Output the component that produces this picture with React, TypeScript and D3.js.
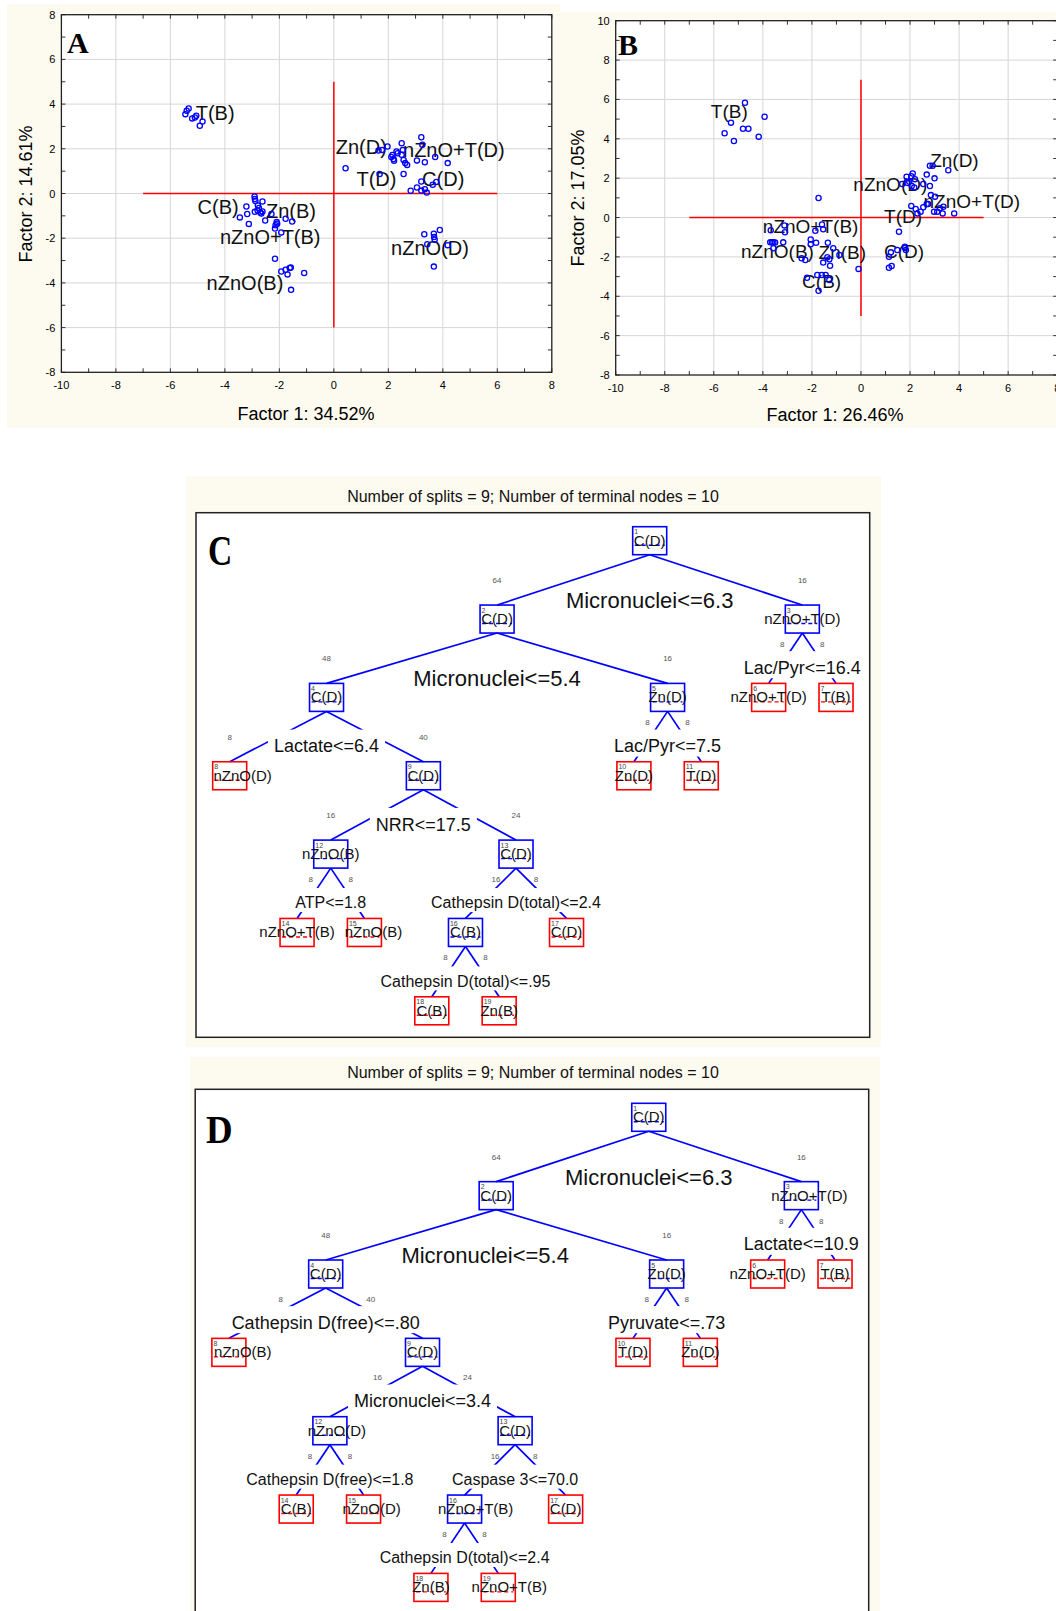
import * as d3 from "d3";

const W = 1056;
const H = 1611;
const SANS = "'Liberation Sans', Arial, sans-serif";
const SERIF = "'Liberation Serif', 'Times New Roman', serif";
const CREAM = "#fdfaf0";
const BLUE = "#0000ff";
const RED = "#ff0000";

// ---------- score plots (A, B) ----------
const ticksX = [-10, -8, -6, -4, -2, 0, 2, 4, 6, 8];
const ticksYA = [-8, -6, -4, -2, 0, 2, 4, 6, 8];
const ticksYB = [-8, -6, -4, -2, 0, 2, 4, 6, 8, 10];

// panel A points, grouped by treatment
const aTB = [[-5.45, 3.55], [-5.4, 3.7], [-5.33, 3.8], [-5.2, 3.36], [-5.1, 3.4], [-5.05, 3.48], [-4.92, 3.03], [-4.82, 3.22]];
const aZnD = [[1.64, 1.92], [1.77, 1.95], [1.97, 2.1], [2.11, 1.63], [2.15, 1.72], [2.19, 1.54], [2.21, 1.47], [2.3, 1.88]];
const aNTD = [[2.49, 2.25], [2.53, 1.95], [3.21, 2.52], [3.25, 2.18], [3.72, 1.63], [4.18, 1.36], [3.34, 1.4], [3.05, 1.48]];
const aTD = [[0.43, 1.13], [1.68, 0.87], [2.56, 0.87], [2.49, 1.73], [2.56, 1.5], [2.62, 1.36], [2.69, 1.28], [2.34, 1.8]];
const aCD = [[3.21, 0.54], [2.82, 0.12], [3.05, 0.27], [3.21, 0.13], [3.34, 0.19], [3.41, 0.04], [3.63, 0.39], [3.76, 0.52]];
const aND = [[3.32, -1.82], [3.67, -1.8], [3.68, -1.95], [3.7, -2.07], [3.89, -1.63], [3.43, -2.27], [4.18, -2.31], [3.67, -3.27]];
const aCB = [[-2.91, -0.13], [-2.9, -0.25], [-2.88, -0.33], [-2.62, -0.36], [-3.21, -0.58], [-2.79, -0.54], [-2.75, -0.65], [-3.18, -0.92]];
const aZnB = [[-2.9, -0.82], [-2.8, -0.76], [-2.7, -0.85], [-2.62, -0.8], [-2.66, -0.9], [-2.29, -0.92], [-1.77, -1.13], [-1.53, -1.25]];
const aNTB = [[-3.45, -1.07], [-3.12, -1.36], [-2.52, -1.21], [-2.1, -1.28], [-2.14, -1.42], [-2.16, -1.57], [-2.08, -1.35], [-1.93, -1.74]];
const aNB = [[-2.16, -2.92], [-1.93, -3.49], [-1.77, -3.41], [-1.62, -3.33], [-1.58, -3.31], [-1.7, -3.62], [-1.57, -4.31], [-1.09, -3.56]];

// panel B points
const bTB = [[-4.73, 5.83], [-5.3, 4.82], [-5.56, 4.28], [-5.18, 3.89], [-4.81, 4.51], [-4.59, 4.51], [-4.17, 4.11], [-3.93, 5.12]];
const bZnD = [[2.81, 2.63], [2.92, 2.63], [3.56, 2.4], [2.68, 2.18], [3.0, 1.99], [2.11, 2.24], [2.54, 1.7], [2.81, 1.6]];
const bND = [[1.86, 2.07], [1.68, 1.7], [1.97, 1.82], [2.07, 1.6], [2.17, 1.53], [2.2, 1.95], [1.9, 1.75], [2.05, 2.1]];
const bNTD = [[2.85, 1.14], [3.02, 1.06], [2.98, 0.3], [3.11, 0.3], [3.22, 0.47], [3.33, 0.21], [3.36, 0.55], [3.8, 0.21]];
const bTD = [[2.05, 0.59], [2.23, 0.43], [2.3, 0.21], [2.43, 0.3], [2.54, 0.52], [2.68, 0.69], [2.74, 0.69], [1.55, -0.72]];
const bCD = [[1.14, -1.99], [1.22, -1.77], [1.48, -1.65], [1.79, -1.48], [1.83, -1.65], [1.14, -2.55], [1.25, -2.46], [1.8, -1.55]];
const bNTB = [[-1.73, 0.99], [-3.68, -0.64], [-3.12, -0.4], [-3.1, -0.75], [-1.59, -0.35], [-1.54, -0.6], [-1.86, -0.67], [-2.05, -1.11]];
const bNB = [[-3.7, -1.26], [-3.63, -1.26], [-3.57, -1.26], [-3.5, -1.27], [-3.17, -1.26], [-3.57, -1.56], [-2.42, -2.07], [-2.27, -2.16]];
const bZnB = [[-2.05, -1.36], [-1.83, -1.28], [-1.35, -1.28], [-1.13, -1.56], [-1.37, -2.02], [-1.29, -2.12], [-0.88, -1.9], [-1.54, -2.29]];
const bCB = [[-1.26, -2.45], [-2.2, -3.06], [-1.78, -2.92], [-1.6, -2.92], [-1.44, -2.92], [-1.29, -3.17], [-1.73, -3.72], [-0.1, -2.61]];

const pointsA = [aTB, aZnD, aNTD, aTD, aCD, aND, aCB, aZnB, aNTB, aNB];
const pointsB = [bTB, bZnD, bND, bNTD, bTD, bCD, bNTB, bNB, bZnB, bCB];

// group labels: [text, x, y] in factor units (text starts at x, centred on y)
const labelsA = [
  ["T(B)", -5.07, 3.6], ["Zn(D)", 0.07, 2.09], ["nZnO+T(D)", 2.54, 1.95], ["T(D)", 0.83, 0.65],
  ["C(D)", 3.24, 0.65], ["C(B)", -5.0, -0.6], ["Zn(B)", -2.49, -0.77], ["nZnO+T(B)", -4.18, -1.95],
  ["nZnO(D)", 2.1, -2.44], ["nZnO(B)", -4.67, -3.99],
];
const labelsB = [
  ["T(B)", -6.12, 5.37], ["Zn(D)", 2.82, 2.92], ["nZnO(D)", -0.31, 1.7], ["nZnO+T(D)", 2.55, 0.84],
  ["T(D)", 0.94, 0.08], ["nZnO+T(B)", -4.0, -0.47], ["nZnO(B)", -4.89, -1.73], ["Zn(B)", -1.73, -1.76],
  ["C(D)", 0.94, -1.73], ["C(B)", -2.4, -3.22],
];

// ---------- classification trees (C, D) ----------
const treeC = [
  { id: 1, parent: null, cls: "C(D)", n: 80, split: "Micronuclei<=6.3" },
  { id: 2, parent: 1, cls: "C(D)", n: 64, split: "Micronuclei<=5.4" },
  { id: 3, parent: 1, cls: "nZnO+T(D)", n: 16, split: "Lac/Pyr<=16.4" },
  { id: 4, parent: 2, cls: "C(D)", n: 48, split: "Lactate<=6.4" },
  { id: 5, parent: 2, cls: "Zn(D)", n: 16, split: "Lac/Pyr<=7.5" },
  { id: 6, parent: 3, cls: "nZnO+T(D)", n: 8 },
  { id: 7, parent: 3, cls: "T(B)", n: 8 },
  { id: 8, parent: 4, cls: "nZnO(D)", n: 8 },
  { id: 9, parent: 4, cls: "C(D)", n: 40, split: "NRR<=17.5" },
  { id: 10, parent: 5, cls: "Zn(D)", n: 8 },
  { id: 11, parent: 5, cls: "T(D)", n: 8 },
  { id: 12, parent: 9, cls: "nZnO(B)", n: 16, split: "ATP<=1.8" },
  { id: 13, parent: 9, cls: "C(D)", n: 24, split: "Cathepsin D(total)<=2.4" },
  { id: 14, parent: 12, cls: "nZnO+T(B)", n: 8 },
  { id: 15, parent: 12, cls: "nZnO(B)", n: 8 },
  { id: 16, parent: 13, cls: "C(B)", n: 16, split: "Cathepsin D(total)<=.95" },
  { id: 17, parent: 13, cls: "C(D)", n: 8 },
  { id: 18, parent: 16, cls: "C(B)", n: 8 },
  { id: 19, parent: 16, cls: "Zn(B)", n: 8 },
];

const treeD = [
  { id: 1, parent: null, cls: "C(D)", n: 80, split: "Micronuclei<=6.3" },
  { id: 2, parent: 1, cls: "C(D)", n: 64, split: "Micronuclei<=5.4" },
  { id: 3, parent: 1, cls: "nZnO+T(D)", n: 16, split: "Lactate<=10.9" },
  { id: 4, parent: 2, cls: "C(D)", n: 48, split: "Cathepsin D(free)<=.80" },
  { id: 5, parent: 2, cls: "Zn(D)", n: 16, split: "Pyruvate<=.73" },
  { id: 6, parent: 3, cls: "nZnO+T(D)", n: 8 },
  { id: 7, parent: 3, cls: "T(B)", n: 8 },
  { id: 8, parent: 4, cls: "nZnO(B)", n: 8 },
  { id: 9, parent: 4, cls: "C(D)", n: 40, split: "Micronuclei<=3.4" },
  { id: 10, parent: 5, cls: "T(D)", n: 8 },
  { id: 11, parent: 5, cls: "Zn(D)", n: 8 },
  { id: 12, parent: 9, cls: "nZnO(D)", n: 16, split: "Cathepsin D(free)<=1.8" },
  { id: 13, parent: 9, cls: "C(D)", n: 24, split: "Caspase 3<=70.0" },
  { id: 14, parent: 12, cls: "C(B)", n: 8 },
  { id: 15, parent: 12, cls: "nZnO(D)", n: 8 },
  { id: 16, parent: 13, cls: "nZnO+T(B)", n: 16, split: "Cathepsin D(total)<=2.4" },
  { id: 17, parent: 13, cls: "C(D)", n: 8 },
  { id: 18, parent: 16, cls: "Zn(B)", n: 8 },
  { id: 19, parent: 16, cls: "nZnO+T(B)", n: 8 },
];

const treeTitle = "Number of splits = 9; Number of terminal nodes = 10";

// layout nudges for class labels that Statistica pushed sideways
const clsShiftC: Record<number, number> = { 8: 13, 15: 9 };
const clsShiftD: Record<number, number> = { 3: 8, 8: 14, 12: 7, 15: 8, 16: 11, 19: 11 };
const splitShiftD: Record<number, number> = { 2: -11 };

let ctx: CanvasRenderingContext2D | null = null;
function textW(s: string, size: number) {
  if (!ctx) ctx = document.createElement("canvas").getContext("2d");
  if (!ctx) return s.length * size * 0.55;
  ctx.font = `${size}px 'Liberation Sans', Arial, sans-serif`;
  return ctx.measureText(s).width;
}

function Scatter({ f, yTicks, points, labels, hLine, vLine, letter, xTitle, yTitle, labelSize }: any) {
  const x = d3.scaleLinear([-10, 8], [f.x0, f.x1]);
  const y = d3.scaleLinear([yTicks[0], yTicks[yTicks.length - 1]], [f.y1, f.y0]);
  const minorX = d3.range(-10, 9, 1);
  const minorY = d3.range(yTicks[0], yTicks[yTicks.length - 1] + 1, 1);
  return (
    <g>
      <rect x={f.x0} y={f.y0} width={f.x1 - f.x0} height={f.y1 - f.y0} fill="#fff" />
      {ticksX.slice(1, -1).map((t) => (
        <line key={"gx" + t} x1={x(t)} x2={x(t)} y1={f.y0} y2={f.y1} stroke="#d6d6d6" />
      ))}
      {yTicks.slice(1, -1).map((t: number) => (
        <line key={"gy" + t} y1={y(t)} y2={y(t)} x1={f.x0} x2={f.x1} stroke="#d6d6d6" />
      ))}
      {minorX.map((t) => (
        <g key={"tx" + t} stroke="#333">
          <line x1={x(t)} x2={x(t)} y1={f.y1} y2={f.y1 - 4} />
          <line x1={x(t)} x2={x(t)} y1={f.y0} y2={f.y0 + 4} />
        </g>
      ))}
      {minorY.map((t: number) => (
        <g key={"ty" + t} stroke="#333">
          <line x1={f.x0} x2={f.x0 + 4} y1={y(t)} y2={y(t)} />
          <line x1={f.x1} x2={f.x1 - 4} y1={y(t)} y2={y(t)} />
        </g>
      ))}
      <rect x={f.x0} y={f.y0} width={f.x1 - f.x0} height={f.y1 - f.y0} fill="none" stroke="#222" strokeWidth={1.3} />
      {ticksX.map((t) => (
        <text key={"lx" + t} x={x(t)} y={f.y1 + 17} fontSize={11} textAnchor="middle" fontFamily={SANS}>{t}</text>
      ))}
      {yTicks.map((t: number) => (
        <text key={"ly" + t} x={f.x0 - 6} y={y(t) + 4} fontSize={11} textAnchor="end" fontFamily={SANS}>{t}</text>
      ))}
      <line x1={x(hLine[0])} x2={x(hLine[1])} y1={y(0)} y2={y(0)} stroke={RED} strokeWidth={1.5} />
      <line x1={x(0)} x2={x(0)} y1={y(vLine[0])} y2={y(vLine[1])} stroke={RED} strokeWidth={1.5} />
      {labels.map(([s, lx, ly]: any) => (
        <text key={s} x={x(lx)} y={y(ly)} dy="0.35em" fontSize={labelSize} fontFamily={SANS} fill="#111">{s}</text>
      ))}
      {points.flat().map((p: number[], i: number) => (
        <circle key={i} cx={x(p[0])} cy={y(p[1])} r={2.6} fill="none" stroke={BLUE} strokeWidth={1.3} />
      ))}
      <text x={letter.x} y={letter.y} fontSize={30} fontWeight="bold" fontFamily={SERIF}>{letter.s}</text>
      <text x={xTitle.x} y={xTitle.y} fontSize={18} textAnchor="middle" fontFamily={SANS}>{xTitle.s}</text>
      <text transform={`translate(${yTitle.x},${yTitle.y}) rotate(-90)`} fontSize={18} textAnchor="middle" dy="0.35em" fontFamily={SANS}>{yTitle.s}</text>
    </g>
  );
}

const BW = 34;
const BH = 28;

function Tree({ rows, f, letter, clsShift, splitShift }: any) {
  const root = d3.stratify<any>().id((d) => String(d.id)).parentId((d) => (d.parent == null ? null : String(d.parent)))(rows);
  d3.cluster<any>().size([1, 1]).separation(() => 1)(root);
  const x = d3.scaleLinear([0, 1], [f.x0, f.x1]);
  const top = d3.scaleLinear([0, 6], [f.y0 + 14, f.y0 + 14 + 6 * 78.35]);
  const nodes = root.descendants().map((n: any) => ({ n, cx: x(n.x), top: top(n.depth) }));
  const byId = new Map(nodes.map((d) => [d.n.data.id, d]));
  const splits = nodes.filter((d) => d.n.children).map((p) => {
    const [a, b] = p.n.children.map((c: any) => byId.get(c.data.id));
    const span = b.cx - a.cx;
    const big = span > 250;
    const fs = big ? 22 : p.n.depth <= 3 ? 18 : 16;
    const cy = a.top - (big ? 5 : 16);
    const lx = p.cx + (splitShift[p.n.data.id] || 0);
    const w = textW(p.n.data.split, fs);
    const rect = { x0: lx - w / 2 - 6, x1: lx + w / 2 + 6, y0: cy - 0.9 * fs, y1: cy + 0.6 * fs };
    const parentMode = a.cx > rect.x0 - 20 || b.cx < rect.x1 + 20;
    const dx = span < 120 ? 20 : 45;
    const counts = parentMode
      ? [
          { s: a.n.data.n, x: p.cx - dx, y: p.top + BH + 14 },
          { s: b.n.data.n, x: p.cx + dx, y: p.top + BH + 14 },
        ]
      : [
          { s: a.n.data.n, x: a.cx, y: a.top - 22 },
          { s: b.n.data.n, x: b.cx, y: b.top - 22 },
        ];
    return { p, a, b, fs, cy, lx, rect, counts, big };
  });
  return (
    <g>
      <rect x={f.fx0} y={f.fy0} width={f.fx1 - f.fx0} height={f.fy1 - f.fy0} fill="#fff" stroke="#222" strokeWidth={1.5} />
      <text transform={`translate(${letter.x},${letter.y}) scale(${letter.sx},1)`} fontSize={letter.size} fontWeight="bold" fontFamily={SERIF}>{letter.s}</text>
      {splits.map(({ p, a, b }) => (
        <g key={"e" + p.n.data.id} stroke={BLUE} strokeWidth={1.7}>
          <line x1={p.cx} y1={p.top + BH} x2={a.cx} y2={a.top} />
          <line x1={p.cx} y1={p.top + BH} x2={b.cx} y2={b.top} />
        </g>
      ))}
      {splits.map(({ p, fs, cy, lx, rect, counts, big }) => (
        <g key={"s" + p.n.data.id}>
          {!big && <rect x={rect.x0} y={rect.y0} width={rect.x1 - rect.x0} height={rect.y1 - rect.y0} fill="#fff" />}
          <text x={lx} y={cy} dy="0.36em" fontSize={fs} textAnchor="middle" fontFamily={SANS} fill="#111">{p.n.data.split}</text>
          {counts.map((c, i) => (
            <text key={i} x={c.x} y={c.y} fontSize={8} textAnchor="middle" fontFamily={SANS} fill="#555">{c.s}</text>
          ))}
        </g>
      ))}
      {nodes.map(({ n, cx, top: t }) => {
        const col = n.children ? BLUE : RED;
        const id = n.data.id;
        return (
          <g key={"n" + id}>
            <rect x={cx - BW / 2} y={t} width={BW} height={BH} fill="none" stroke={col} strokeWidth={1.6} />
            <line x1={cx - BW / 2 + 2} x2={cx + BW / 2 - 2} y1={t + 18.5} y2={t + 18.5} stroke={col} strokeWidth={1.4} strokeDasharray="4 3" />
            <text x={cx - BW / 2 + 1.5} y={t + 7.5} fontSize={7} fontFamily={SANS} fill="#444">{id}</text>
            <text x={cx + (clsShift[id] || 0)} y={t + 13.5} dy="0.36em" fontSize={15} textAnchor="middle" fontFamily={SANS} fill="#111">{n.data.cls}</text>
          </g>
        );
      })}
    </g>
  );
}

export default function App() {
  return (
    <svg width={W} height={H} style={{ position: "absolute", left: 0, top: 0, background: "#fff" }}>
      <rect x={7} y={4} width={553} height={424} fill={CREAM} />
      <rect x={560} y={11.7} width={W - 560} height={416.3} fill={CREAM} />
      <Scatter
        f={{ x0: 61.4, x1: 551.8, y0: 14.7, y1: 372.3 }}
        yTicks={ticksYA}
        points={pointsA}
        labels={labelsA}
        hLine={[-7, 6]}
        vLine={[-6, 5]}
        labelSize={20}
        letter={{ s: "A", x: 67, y: 53 }}
        xTitle={{ s: "Factor 1: 34.52%", x: 306, y: 420 }}
        yTitle={{ s: "Factor 2: 14.61%", x: 26, y: 194 }}
      />
      <Scatter
        f={{ x0: 615.7, x1: 1057.2, y0: 20.7, y1: 375 }}
        yTicks={ticksYB}
        points={pointsB}
        labels={labelsB}
        hLine={[-7, 5]}
        vLine={[-5, 7]}
        labelSize={19}
        letter={{ s: "B", x: 618, y: 55 }}
        xTitle={{ s: "Factor 1: 26.46%", x: 835, y: 421 }}
        yTitle={{ s: "Factor 2: 17.05%", x: 578, y: 198 }}
      />

      <rect x={186} y={476} width={695} height={571} fill={CREAM} />
      <text x={533} y={502} fontSize={16} textAnchor="middle" fontFamily={SANS} fill="#111">{treeTitle}</text>
      <Tree
        rows={treeC}
        f={{ x0: 196, x1: 869.7, y0: 512.7, fx0: 196, fx1: 869.7, fy0: 512.7, fy1: 1037.3 }}
        letter={{ s: "C", x: 208, y: 565, size: 42, sx: 0.8 }}
        clsShift={clsShiftC}
        splitShift={{}}
      />

      <rect x={190} y={1057} width={690} height={H - 1057} fill={CREAM} />
      <text x={533} y={1078} fontSize={16} textAnchor="middle" fontFamily={SANS} fill="#111">{treeTitle}</text>
      <Tree
        rows={treeD}
        f={{ x0: 195.2, x1: 868.7, y0: 1089.3, fx0: 195.2, fx1: 868.7, fy0: 1089.3, fy1: 1640 }}
        letter={{ s: "D", x: 206, y: 1143, size: 41, sx: 0.9 }}
        clsShift={clsShiftD}
        splitShift={splitShiftD}
      />
    </svg>
  );
}
